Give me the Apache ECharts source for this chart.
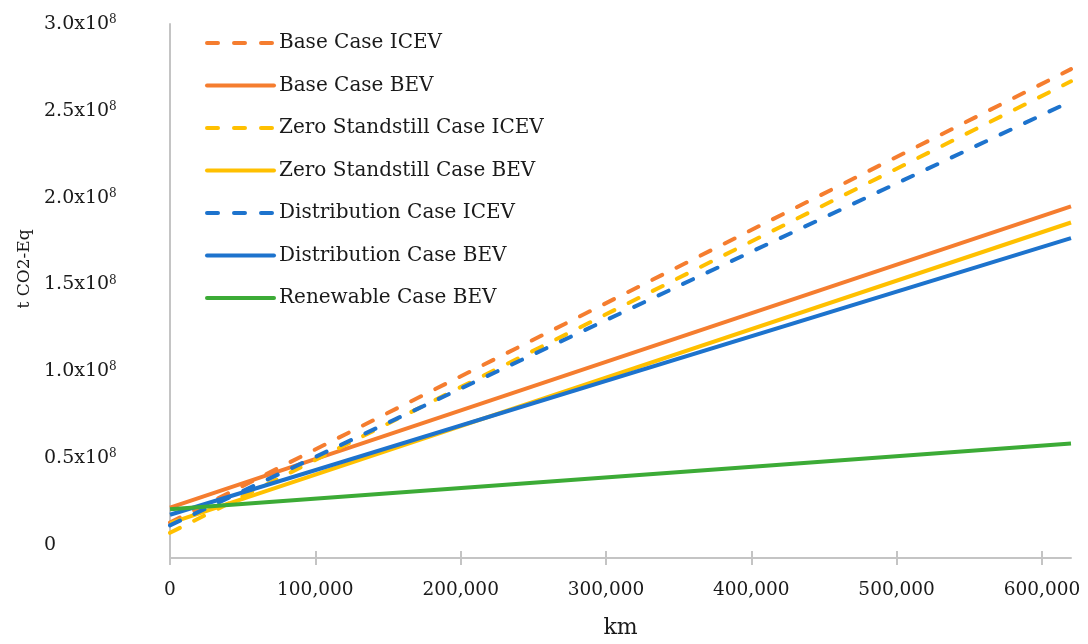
<!DOCTYPE html>
<html>
<head>
<meta charset="utf-8">
<script src="https://cdn.jsdelivr.net/npm/echarts@6/dist/echarts.min.js"></script>
<style>
html,body{margin:0;padding:0;background:#fff;}
#chart{width:1088px;height:644px;}
</style>
</head>
<body>
<div id="chart"></div>
<script>
// Distance driven (km): start and end of the plotted range
var kmPoints = [0, 620000];
// Cumulative emissions (t CO2-Eq) at kmPoints
var baseICEV        = [12.9e6, 274e6];
var baseBEV         = [21.5e6, 195e6];
var zeroICEV        = [7.0e6, 267e6];
var zeroBEV         = [12.6e6, 185.7e6];
var distICEV        = [11.3e6, 255.5e6];
var distBEV         = [17.4e6, 176.7e6];
var renewBEV        = [20.6e6, 58.5e6];

var seriesNames = ['Base Case ICEV','Base Case BEV','Zero Standstill Case ICEV','Zero Standstill Case BEV','Distribution Case ICEV','Distribution Case BEV','Renewable Case BEV'];

var xTickValues = [0, 100000, 200000, 300000, 400000, 500000, 600000];
var yTickValues = [0, 0.5e8, 1.0e8, 1.5e8, 2.0e8, 2.5e8, 3.0e8];
var yTickLabels = ['0', '0.5', '1.0', '1.5', '2.0', '2.5', '3.0'];

var ORANGE = '#F57D2F', YELLOW = '#FFC000', BLUE = '#1D73CD', GREEN = '#3CAB36';
var FONT = 'DejaVu Serif';

function pairs(vals){ return kmPoints.map(function(x,i){ return [x, vals[i]]; }); }
function mk(name, vals, color, dashed){
  return {
    name: name, type: 'line', data: pairs(vals), symbol: 'none', silent: true,
    lineStyle: { color: color, width: 4, type: dashed ? [11, 16] : 'solid', cap: dashed ? 'round' : 'butt' },
    itemStyle: { color: color }
  };
}

var chart = echarts.init(document.getElementById('chart'), null, {renderer: 'canvas'});
chart.setOption({
  animation: false,
  backgroundColor: '#fff',
  grid: { left: 170, right: 17, top: 24, bottom: 84, containLabel: false },
  legend: {
    orient: 'vertical', left: 205, top: 31, padding: 0,
    itemWidth: 67, itemHeight: 14, itemGap: 18.5,
    data: seriesNames,
    itemStyle: { color: 'rgba(0,0,0,0)', borderWidth: 0, opacity: 0 },
    lineStyle: { width: 4, cap: 'round' },
    textStyle: { fontFamily: FONT, fontSize: 20, color: '#1a1a1a', lineHeight: 24 },
    selectedMode: false
  },
  xAxis: [{
    type: 'value', min: 0, max: 620000,
    name: 'km', nameLocation: 'middle', nameGap: 59,
    nameTextStyle: { fontFamily: FONT, fontSize: 22, color: '#1a1a1a' },
    axisLine: { onZero: false, lineStyle: { color: '#C4C4C4', width: 2 } },
    axisTick: { show: true, length: 7, customValues: xTickValues, lineStyle: { color: '#C4C4C4', width: 2 } },
    axisLabel: { customValues: xTickValues, margin: 23, fontFamily: FONT, fontSize: 18.5, color: '#1a1a1a',
      formatter: function(v){ return v.toLocaleString('en-US'); } },
    splitLine: { show: false }
  },{
    type: 'value', min: 0, max: 620000, position: 'bottom',
    axisLine: { show: false, onZero: false },
    axisTick: { show: true, inside: true, length: 7, customValues: xTickValues, lineStyle: { color: '#C4C4C4', width: 2 } },
    axisLabel: { show: false },
    splitLine: { show: false }
  }],
  yAxis: {
    type: 'value', min: -7.5e6, max: 3.0e8,
    name: 't CO2-Eq', nameLocation: 'middle', nameGap: 135,
    nameTextStyle: { fontFamily: FONT, fontSize: 17, color: '#1a1a1a', padding: [0, 0, 0, 44] },
    axisLine: { show: true, lineStyle: { color: '#C4C4C4', width: 2 } },
    axisTick: { show: false },
    splitLine: { show: false },
    axisLabel: {
      customValues: yTickValues, align: 'left', margin: 126, color: '#1a1a1a',
      formatter: function(v){
        var i = yTickValues.indexOf(v);
        var t = i >= 0 ? yTickLabels[i] : '';
        if (v === 0) return '{a|' + t + '}';
        return '{a|' + t + 'x10}{s|8}';
      },
      rich: {
        a: { fontFamily: FONT, fontSize: 19, color: '#1a1a1a' },
        s: { fontFamily: FONT, fontSize: 12, color: '#1a1a1a', verticalAlign: 'top', padding: [0, 0, 8, 0] }
      }
    }
  },
  series: [
    mk(seriesNames[0], baseICEV, ORANGE, true),
    mk(seriesNames[1], baseBEV, ORANGE, false),
    mk(seriesNames[2], zeroICEV, YELLOW, true),
    mk(seriesNames[3], zeroBEV, YELLOW, false),
    mk(seriesNames[4], distICEV, BLUE, true),
    mk(seriesNames[5], distBEV, BLUE, false),
    mk(seriesNames[6], renewBEV, GREEN, false)
  ]
});
</script>
</body>
</html>
